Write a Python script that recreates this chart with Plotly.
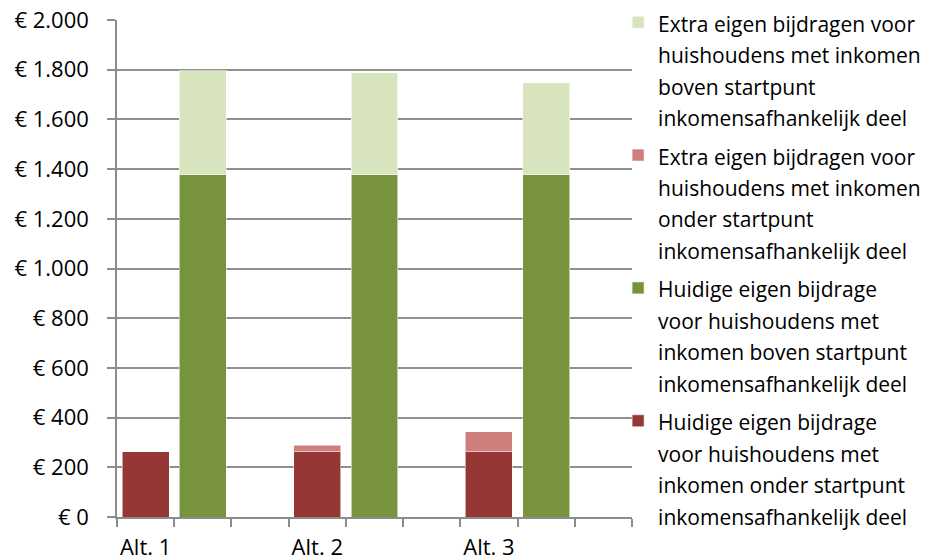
import plotly.graph_objects as go

categories = ["Alt. 1", "Alt. 2", "Alt. 3"]
huidig_onder = [262, 262, 262]
extra_onder = [0, 26, 81]
huidig_boven = [1378, 1378, 1378]
extra_boven = [418, 410, 370]

name_huidig_onder = "Huidige eigen bijdrage<br>voor huishoudens met<br>inkomen onder startpunt<br>inkomensafhankelijk deel"
name_extra_onder = "Extra eigen bijdragen voor<br>huishoudens met inkomen<br>onder startpunt<br>inkomensafhankelijk deel"
name_huidig_boven = "Huidige eigen bijdrage<br>voor huishoudens met<br>inkomen boven startpunt<br>inkomensafhankelijk deel"
name_extra_boven = "Extra eigen bijdragen voor<br>huishoudens met inkomen<br>boven startpunt<br>inkomensafhankelijk deel"

col_huidig_onder = "#953735"
col_extra_onder = "#CF7D7D"
col_huidig_boven = "#77933C"
col_extra_boven = "#D7E4BD"

slots_per_cat = 3
x_onder = [i * slots_per_cat for i in range(len(categories))]
x_boven = [i * slots_per_cat + 1 for i in range(len(categories))]

LEG_SIZE = 21
def styled(n):
    sp = "<span style='font-size:%dpx'>" % LEG_SIZE
    return sp + n.replace("<br>", "</span><br>" + sp) + "</span>"

# (x, values, name, colour, legend rank) in stacking order
series = [
    (x_onder, huidig_onder, name_huidig_onder, col_huidig_onder, 4),
    (x_boven, huidig_boven, name_huidig_boven, col_huidig_boven, 3),
    (x_onder, extra_onder, name_extra_onder, col_extra_onder, 2),
    (x_boven, extra_boven, name_extra_boven, col_extra_boven, 1),
]

fig = go.Figure()
for k, (xs, ys, n, c, rank) in enumerate(series):
    fig.add_trace(go.Bar(
        x=xs, y=ys, name=styled(n), legendgroup="g%d" % k, legendrank=rank,
        marker=dict(color=c, line=dict(color="rgba(255,255,255,0.55)", width=1)),
        width=0.82,
    ))

n_slots = slots_per_cat * len(categories)
fig.update_layout(
    width=942, height=560,
    barmode="stack",
    paper_bgcolor="white", plot_bgcolor="white",
    margin=dict(l=117, r=310, t=20, b=43, autoexpand=False),
    font=dict(family="Open Sans", size=22, color="black"),
    separators=",.",
    showlegend=True,
    legend=dict(
        traceorder="grouped",
        x=0.973, xanchor="left", xref="paper",
        y=1.0, yanchor="top", yref="container",
        font=dict(size=24.2, family="Open Sans"),
        valign="top",
        tracegroupgap=4,
        itemwidth=30,
        maxheight=1.0,
        bgcolor="rgba(0,0,0,0)",
    ),
    xaxis=dict(
        range=[-0.5, n_slots - 0.5],
        tickvals=x_onder, ticktext=categories,
        ticks="", ticklen=0,
        showgrid=False, zeroline=False,
        showline=True, linecolor="#8c8c8c", linewidth=1.5,
        ticklabelstandoff=10,
        ticklabeloverflow="allow",
        tickfont=dict(size=22),
        minor=dict(tickvals=[i - 0.5 for i in range(n_slots + 1)], ticks="outside",
                   ticklen=8, tickcolor="#8c8c8c", tickwidth=1.5, showgrid=False),
    ),
    yaxis=dict(
        range=[0, 2000], dtick=200,
        tickprefix="€ ", tickformat=",d",
        ticks="outside", ticklen=8, tickcolor="#8c8c8c", tickwidth=1.5,
        showgrid=True, gridcolor="#8f8f8f", gridwidth=1.5,
        zeroline=False,
        showline=True, linecolor="#8c8c8c", linewidth=1.5,
        ticklabelstandoff=14,
        ticklabeloverflow="allow",
        tickfont=dict(size=22),
    ),
)

fig.write_html("out.html", config={"displayModeBar": False},
               post_script="document.body.style.margin='0';")
